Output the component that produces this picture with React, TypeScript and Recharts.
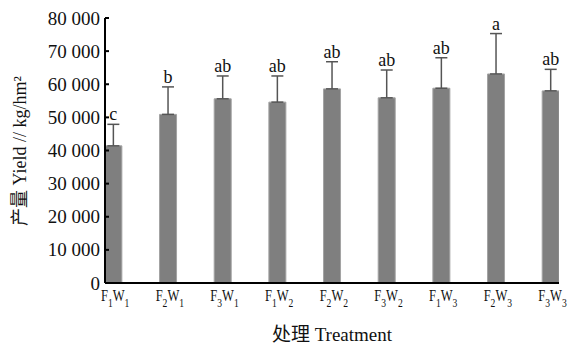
import { Bar, BarChart, ErrorBar, Label, LabelList, XAxis, YAxis } from "recharts";

const fLevels = [1, 2, 3, 1, 2, 3, 1, 2, 3];
const wLevels = [1, 1, 1, 2, 2, 2, 3, 3, 3];
const yields = [41400, 50900, 55600, 54600, 58600, 55900, 58800, 63100, 58000];
const errors = [6500, 8300, 6900, 7900, 8200, 8400, 9200, 12200, 6500];
const letters = ["c", "b", "ab", "ab", "ab", "ab", "ab", "a", "ab"];
const yTicks = [0, 10000, 20000, 30000, 40000, 50000, 60000, 70000, 80000];

const data = yields.map((v, i) => ({
  idx: i,
  yield: v,
  err: errors[i],
  letter: letters[i],
}));

const font = "'Liberation Serif', 'Noto Sans CJK SC', serif";

const fmtY = (v: number) => (v === 0 ? "0" : `${v / 1000} 000`);

function YTick({ x, y, payload }: any) {
  return (
    <g>
      <line x1={x + 5} x2={x + 9} y1={y} y2={y} stroke="#000" strokeWidth={2} />
      <text x={x} y={y} textAnchor="end" dominantBaseline="central" fontFamily={font} fontSize={19} fill="#111">
        {fmtY(payload.value)}
      </text>
    </g>
  );
}

// condensed F_iW_j label, squeezed horizontally like the original
function XTick({ x, y, payload }: any) {
  const i = payload.value;
  return (
    <g transform={`translate(${x + 2}, ${y + 18}) scale(0.74, 1)`}>
      <text x={0} y={0} textAnchor="middle" fontFamily={font} fontSize={17} fill="#111">
        F
        <tspan dy={6} fontSize={13}>{fLevels[i]}</tspan>
        <tspan dy={-6}>W</tspan>
        <tspan dy={6} fontSize={13}>{wLevels[i]}</tspan>
      </text>
    </g>
  );
}

function YLabel() {
  const cx = 20;
  const cy = 151;
  return (
    <text
      x={cx}
      y={cy}
      transform={`rotate(-90, ${cx}, ${cy})`}
      textAnchor="middle"
      dominantBaseline="central"
      fontFamily={font}
      fontSize={18}
      fill="#111"
    >
      产量 Yield // kg/hm²
    </text>
  );
}

export default function App() {
  return (
    <div style={{ position: "absolute", left: 0, top: 0, background: "#fff" }}>
      <BarChart width={572} height={348} data={data} margin={{ top: 18, right: 13, bottom: 5, left: 10 }}>
        <XAxis
          dataKey="idx"
          type="number"
          domain={[-0.15, 8.155]}
          ticks={[0, 1, 2, 3, 4, 5, 6, 7, 8]}
          allowDataOverflow
          height={60}
          tickSize={0}
          tickMargin={0}
          tickLine={false}
          tick={<XTick />}
          axisLine={{ stroke: "#000", strokeWidth: 2 }}
        >
          <Label value="处理 Treatment" position="insideBottom" offset={2} fontFamily={font} fontSize={19} fill="#111" />
        </XAxis>
        <YAxis
          type="number"
          domain={[0, 80000]}
          ticks={yTicks}
          width={95}
          tickSize={0}
          tickMargin={5}
          tickLine={false}
          tick={<YTick />}
          axisLine={{ stroke: "#000", strokeWidth: 2 }}
        >
          <Label content={<YLabel />} />
        </YAxis>
        <Bar dataKey="yield" stackId="s" barSize={17} fill="#7f7f7f" stroke="#a3a3a3" strokeWidth={1} isAnimationActive={false}>
          <ErrorBar dataKey={(d: any) => [0, d.err]} width={6} stroke="#555" strokeWidth={1.5} direction="y" />
        </Bar>
        <Bar dataKey="err" stackId="s" barSize={17} fill="transparent" isAnimationActive={false}>
          <LabelList dataKey="letter" position="top" offset={4} fontFamily={font} fontSize={18} fill="#111" />
        </Bar>
      </BarChart>
    </div>
  );
}
